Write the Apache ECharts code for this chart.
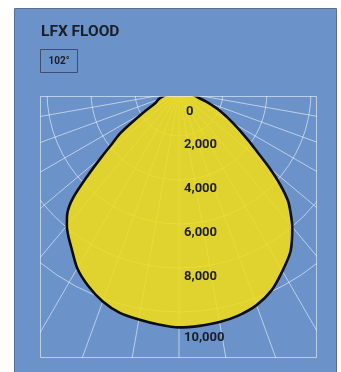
<!DOCTYPE html>
<html>
<head>
<meta charset="utf-8">
<script src="https://cdn.jsdelivr.net/npm/echarts@6/dist/echarts.min.js"></script>
<style>
  html, body { margin: 0; padding: 0; background: #ffffff; width: 341px; height: 372px; overflow: hidden; }
  #head { position: absolute; left: 0; top: 0; width: 341px; height: 372px; }
  #plot { position: absolute; left: 40px; top: 96px; width: 277px; height: 262px; }
</style>
</head>
<body>
<div id="head"></div>
<div id="plot"></div>
<script>
// Product name and beam spread shown in the header
const productName = 'LFX FLOOD';
const beamSpread = '102°';

// Candela distribution: angle from nadir (deg, negative = left) and intensity (cd)
const beamAngles = [-90, -80, -75, -70, -65, -60, -55, -52.5, -50, -47.5, -45, -42.5, -40, -37.5, -35, -30, -25, -20, -15, -10, -5, 0,
                    5, 10, 15, 20, 25, 30, 35, 40, 42.5, 45, 47.5, 50, 52.5, 55, 60, 65, 70, 75, 80, 90];
const intensity  = [0, 450, 730, 1000, 1180, 1870, 3240, 3790, 4590, 5630, 6810, 7520, 7930, 8260, 8560, 9250, 9740, 10130, 10390, 10500, 10610, 10700,
                    10670, 10620, 10510, 10310, 9950, 9400, 8840, 8010, 7520, 7010, 6240, 5360, 4500, 3870, 2850, 2090, 1360, 820, 545, 0];

// Intensity rings that carry a label
const ringLabels = [0, 2000, 4000, 6000, 8000, 10000];

const PANEL = '#6c93c9';
const GRID = 'rgba(236,242,252,0.62)';
const FILL = 'rgba(240,220,26,0.88)';
const INK = '#1b1d27';
const LABEL_FONT = { fontFamily: 'Roboto', fontWeight: 'bold', fontSize: 13, color: INK };

// ---------- header: panel, title, beam badge ----------
const head = echarts.init(document.getElementById('head'), null, { renderer: 'canvas' });
head.setOption({
  animation: false,
  graphic: [
    { type: 'rect', shape: { x: 14.5, y: 8.5, width: 322, height: 372 },
      style: { fill: PANEL, stroke: '#5b6f93', lineWidth: 1 } },
    { type: 'text', x: 41, y: 32,
      style: { text: productName, fill: INK, font: 'bold 15.5px Roboto', textVerticalAlign: 'middle' } },
    { type: 'rect', shape: { x: 40.5, y: 49.5, width: 37, height: 23 },
      style: { fill: 'none', stroke: '#3e4f6c', lineWidth: 1 } },
    { type: 'text', x: 59, y: 61,
      style: { text: beamSpread, fill: INK, font: 'bold 10px Roboto', textAlign: 'center', textVerticalAlign: 'middle' } }
  ]
});

// ---------- photometric polar plot ----------
const polarData = beamAngles.map((a, i) => [intensity[i], a < 0 ? a + 360 : a]);

const ringColors = ['rgba(0,0,0,0)'];
for (let v = 2000; v <= 14000; v += 2000) ringColors.push(ringLabels.indexOf(v) >= 0 ? GRID : 'rgba(0,0,0,0)');

const center = [139, -4];
const radius = 308;   // 14,000 cd at the outer edge

// ring label styles: the first and last labels sit a little further out
const labelRich = {
  ring:   Object.assign({ lineHeight: 18 }, LABEL_FONT),
  origin: Object.assign({ lineHeight: 40, padding: [0, 0, 0, 2] }, LABEL_FONT),
  outer:  Object.assign({ lineHeight: 52 }, LABEL_FONT)
};

const plot = echarts.init(document.getElementById('plot'), null, { renderer: 'canvas' });
plot.setOption({
  animation: false,
  polar: [
    { center: center, radius: radius },
    { center: center, radius: radius }
  ],
  angleAxis: [
    { polarIndex: 0, type: 'value', min: 0, max: 360, interval: 10, startAngle: 270, clockwise: false,
      axisLine: { show: false }, axisTick: { show: false }, axisLabel: { show: false },
      splitLine: { show: true, lineStyle: { color: GRID, width: 1 } } },
    { polarIndex: 1, type: 'value', min: 0, max: 360, interval: 10, startAngle: 270, clockwise: false,
      axisLine: { show: false }, axisTick: { show: false }, axisLabel: { show: false }, splitLine: { show: false } }
  ],
  radiusAxis: [
    { polarIndex: 0, type: 'value', min: 0, max: 14000, interval: 2000,
      axisLine: { show: false }, axisTick: { show: false }, axisLabel: { show: false },
      splitLine: { show: true, lineStyle: { color: ringColors, width: 1 } } },
    { polarIndex: 1, type: 'value', min: 0, max: 14000, interval: 2000, z: 20,
      axisLine: { show: false }, axisTick: { show: false }, splitLine: { show: false },
      axisLabel: Object.assign({
        show: true, margin: 5, align: 'left', verticalAlign: 'top',
        rich: labelRich,
        formatter: v => {
          if (ringLabels.indexOf(v) < 0) return '';
          const style = v === 0 ? 'origin' : (v === ringLabels[ringLabels.length - 1] ? 'outer' : 'ring');
          return '{' + style + '|' + v.toLocaleString('en-US') + '}';
        }
      }, LABEL_FONT) }
  ],
  series: [{
    type: 'line', coordinateSystem: 'polar', polarIndex: 0,
    data: polarData, smooth: 0.25, symbol: 'none',
    lineStyle: { color: '#0d0d0d', width: 2.6 },
    areaStyle: { color: FILL, opacity: 1 },
    z: 5
  }],
  graphic: [
    { type: 'rect', z: 100, shape: { x: 0.5, y: 0.5, width: 276, height: 261 },
      style: { fill: 'none', stroke: GRID, lineWidth: 1 } }
  ]
});
</script>
</body>
</html>
